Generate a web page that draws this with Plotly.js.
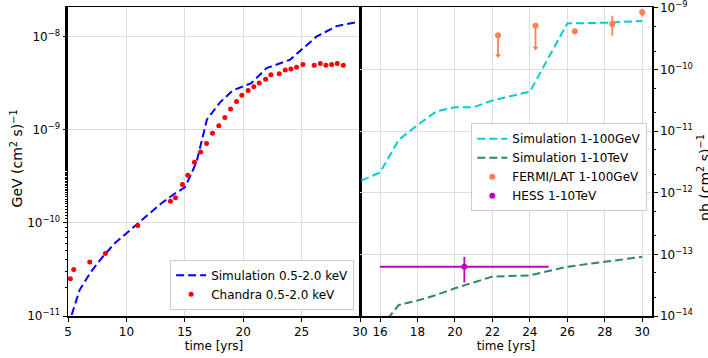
<!DOCTYPE html>
<html>
<head>
<meta charset="utf-8">
<script src="https://cdn.plot.ly/plotly-3.0.1.min.js"></script>
<style>html,body{margin:0;padding:0;background:#fff;}#chart{width:708px;height:358px;}</style>
</head>
<body>
<div id="chart"></div>
<script>
// ---- Left panel: X-ray (0.5-2.0 keV) ----
const simXrayTime = [5, 6, 7, 8, 9, 10, 11, 12, 13, 14, 15, 15.5, 16, 16.9, 18, 19.1, 20.7, 22, 24, 25, 26.3, 28, 30];
const simXrayFlux = [7.76e-12, 1.91e-11, 3.02e-11, 4.37e-11, 6.03e-11, 7.76e-11, 1.00e-10, 1.29e-10, 1.62e-10, 2.00e-10, 2.40e-10, 3.24e-10, 4.47e-10, 1.29e-9, 1.95e-9, 2.63e-9, 3.16e-9, 4.57e-9, 5.62e-9, 7.24e-9, 1.00e-8, 1.29e-8, 1.45e-8];

const chandraTime = [5.2, 5.49, 6.86, 8.2, 10.97, 13.77, 14.2, 14.8, 15.26, 15.83, 16.35, 16.86, 17.37, 17.91, 18.43, 18.92, 19.43, 19.88, 20.42, 20.91, 21.37, 21.92, 22.37, 23.08, 23.6, 24.08, 24.57, 25.11, 26.08, 26.6, 27.08, 27.57, 28.05, 28.57];
const chandraFlux = [2.51e-11, 3.16e-11, 3.80e-11, 4.68e-11, 9.33e-11, 1.70e-10, 1.86e-10, 2.57e-10, 3.24e-10, 4.47e-10, 5.75e-10, 7.08e-10, 9.12e-10, 1.10e-9, 1.35e-9, 1.66e-9, 2.00e-9, 2.34e-9, 2.63e-9, 2.88e-9, 3.16e-9, 3.47e-9, 3.89e-9, 3.98e-9, 4.37e-9, 4.47e-9, 4.68e-9, 5.01e-9, 4.90e-9, 5.13e-9, 4.90e-9, 5.01e-9, 5.13e-9, 4.90e-9];

// ---- Right panel: gamma rays ----
const simGeVTime = [15, 16, 17, 18, 19, 20, 21, 22, 23, 24, 26, 28, 30];
const simGeVFlux = [1.58e-12, 2.14e-12, 7.24e-12, 1.26e-11, 2.09e-11, 2.45e-11, 2.45e-11, 3.16e-11, 3.72e-11, 4.37e-11, 5.62e-10, 5.75e-10, 6.17e-10];

const simTeVTime = [16, 17, 18, 19, 20, 21, 22, 24, 26, 28, 30];
const simTeVFlux = [6.31e-15, 1.51e-14, 1.78e-14, 2.19e-14, 2.82e-14, 3.55e-14, 4.37e-14, 4.57e-14, 6.31e-14, 7.59e-14, 9.12e-14];

const fermiTime = [22.3, 24.3, 26.4, 28.4, 30.0];
const fermiFlux = [3.60e-10, 5.16e-10, 4.18e-10, 5.51e-10, 8.49e-10];
const fermiErrPlus = [0, 0, 0.43e-10, 1.97e-10, 1.2e-10];
const fermiErrMinus = [1.91e-10, 2.92e-10, 0.43e-10, 1.97e-10, 1.2e-10];
const fermiUpperLimit = [true, true, false, false, false];

const hessTime = [20.5];
const hessTimeErr = [4.5];
const hessFlux = [6.3e-14];
const hessFluxErr = [2.8e-14];

// ---- tick labels ----
const xTicksLeft = [5, 10, 15, 20, 25, 30];
const xTicksRight = [16, 18, 20, 22, 24, 26, 28, 30];
const yTicksLeft = [1e-11, 1e-10, 1e-9, 1e-8];
const yTicksRight = [1e-14, 1e-13, 1e-12, 1e-11, 1e-10, 1e-9];
const yTickTextLeft = ['10<sup>−11</sup>', '10<sup>−10</sup>', '10<sup>−9</sup>', '10<sup>−8</sup>'];
const yTickTextRight = ['10<sup>−14</sup>', '10<sup>−13</sup>', '10<sup>−12</sup>', '10<sup>−11</sup>', '10<sup>−10</sup>', '10<sup>−9</sup>'];

const ulTime = fermiTime.filter((t, i) => fermiUpperLimit[i]);
const ulEnd = fermiFlux.map((f, i) => f - fermiErrMinus[i]).filter((v, i) => fermiUpperLimit[i]);

const coral = '#ff7f50';
const magenta = '#bf00bf';

const traces = [
  {x: simXrayTime, y: simXrayFlux, xaxis: 'x', yaxis: 'y', mode: 'lines', name: 'Simulation 0.5-2.0 keV',
   line: {color: '#0000ff', width: 2, dash: '8px,4px'}, legend: 'legend'},
  {x: chandraTime, y: chandraFlux, xaxis: 'x', yaxis: 'y', mode: 'markers', name: 'Chandra 0.5-2.0 keV',
   marker: {color: '#ff0000', size: 5}, legend: 'legend'},
  {x: simGeVTime, y: simGeVFlux, xaxis: 'x2', yaxis: 'y2', mode: 'lines', name: 'Simulation 1-100GeV',
   line: {color: '#00ced1', width: 2, dash: '8px,4px'}, legend: 'legend2'},
  {x: simTeVTime, y: simTeVFlux, xaxis: 'x2', yaxis: 'y2', mode: 'lines', name: 'Simulation 1-10TeV',
   line: {color: '#2e8b57', width: 2, dash: '8px,4px'}, legend: 'legend2'},
  {x: fermiTime, y: fermiFlux, xaxis: 'x2', yaxis: 'y2', mode: 'markers', name: 'FERMI/LAT 1-100GeV',
   marker: {color: coral, size: 6},
   error_y: {type: 'data', symmetric: false, array: fermiErrPlus, arrayminus: fermiErrMinus, color: coral, thickness: 1.8, width: 0},
   legend: 'legend2'},
  {x: ulTime, y: ulEnd, xaxis: 'x2', yaxis: 'y2', mode: 'markers', showlegend: false, hoverinfo: 'skip',
   marker: {color: coral, size: 5, symbol: 'triangle-down'}},
  {x: hessTime, y: hessFlux, xaxis: 'x2', yaxis: 'y2', mode: 'markers', name: 'HESS 1-10TeV',
   marker: {color: magenta, size: 6},
   error_x: {type: 'data', array: hessTimeErr, color: magenta, thickness: 1.8, width: 0},
   error_y: {type: 'data', array: hessFluxErr, color: magenta, thickness: 1.8, width: 0},
   legend: 'legend2'}
];

const fam = 'DejaVu Sans, sans-serif';
const gridc = '#dddddd';
const axBase = {showline: true, linecolor: '#000', linewidth: 1.5, mirror: true, ticks: 'outside', ticklen: 4,
  tickcolor: '#000', tickwidth: 1, showgrid: true, gridcolor: gridc, gridwidth: 1, zeroline: false,
  ticklabeloverflow: 'allow',
  tickfont: {family: fam, size: 12, color: '#000'}};
const minorTicks = {ticks: 'outside', ticklen: 2, tickcolor: '#000', showgrid: false};

const layout = {
  width: 708, height: 358,
  margin: {l: 68, r: 56, t: 7, b: 42},
  paper_bgcolor: '#fff', plot_bgcolor: '#fff',
  font: {family: fam, size: 12, color: '#000'},
  xaxis: Object.assign({}, axBase, {domain: [0, 0.5], range: [5, 30], tickvals: xTicksLeft, anchor: 'y',
    title: {text: 'time [yrs]', font: {size: 12}, standoff: 2}}),
  yaxis: Object.assign({}, axBase, {type: 'log', range: [-11, -7.684], tickvals: yTicksLeft, ticktext: yTickTextLeft, anchor: 'x',
    minor: minorTicks}),
  xaxis2: Object.assign({}, axBase, {domain: [0.5, 1], range: [14.93, 30.52], tickvals: xTicksRight, anchor: 'y2',
    title: {text: 'time [yrs]', font: {size: 12}, standoff: 2}}),
  yaxis2: Object.assign({}, axBase, {type: 'log', range: [-14, -8.984], tickvals: yTicksRight, ticktext: yTickTextRight, anchor: 'x2', side: 'right',
    minor: minorTicks}),
  legend: {x: 0.49, y: 0.02, xanchor: 'right', yanchor: 'bottom', bgcolor: '#fff', bordercolor: '#cccccc', borderwidth: 1,
    font: {size: 12}, traceorder: 'normal'},
  legend2: {x: 0.992, y: 0.624, xanchor: 'right', yanchor: 'top', bgcolor: '#fff', bordercolor: '#cccccc', borderwidth: 1,
    font: {size: 12}, traceorder: 'normal'},
  annotations: [
    {text: 'GeV (cm<sup>2</sup> s)<sup>−1</sup>', xref: 'paper', yref: 'paper', x: -0.0873, y: 0.51, textangle: -90,
     showarrow: false, font: {size: 14, color: '#000'}, xanchor: 'center', yanchor: 'middle'},
    {text: 'ph (cm<sup>2</sup> s)<sup>−1</sup>', xref: 'paper', yref: 'paper', x: 1.089, y: 0.45, textangle: -90,
     showarrow: false, font: {size: 14, color: '#000'}, xanchor: 'center', yanchor: 'middle'}
  ],
  showlegend: true
};

Plotly.newPlot('chart', traces, layout, {displayModeBar: false, staticPlot: true});
</script>
</body>
</html>
